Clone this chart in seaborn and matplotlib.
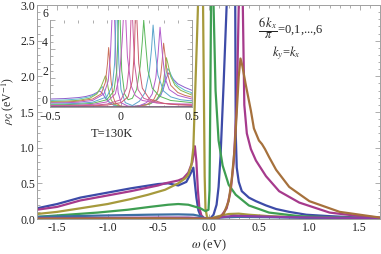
import matplotlib
matplotlib.use("Agg")
import matplotlib.pyplot as plt
import seaborn as sns
from matplotlib.ticker import MultipleLocator, FixedLocator, FixedFormatter

# ---- main panel: seven spectral functions, kx = 0..6 (pi/6), ky = kx
blue_x = [-1.7, -1.5, -1.27, -1.0, -0.77, -0.5, -0.4, -0.3, -0.22, -0.19, -0.15, -0.135, -0.12, -0.1, -0.08, -0.05,
          -0.01, 0.02, 0.05, 0.08, 0.1, 0.12, 0.15, 0.18, 0.22, 0.265, 0.27, 0.28, 0.3, 0.33, 0.4, 0.47, 0.57, 0.67,
          0.8, 0.97, 1.2, 1.5, 1.7]
blue_y = [0.15, 0.21, 0.3, 0.37, 0.43, 0.49, 0.5, 0.47, 0.52, 0.6, 0.72, 0.5, 0.3, 0.12, 0.05, 0.01,
          0.0, 0.01, 0.06, 0.2, 0.45, 0.9, 1.9, 3.0, 8.0, 3.0, 1.2, 0.72, 0.52, 0.39, 0.3, 0.25, 0.19, 0.14,
          0.1, 0.06, 0.04, 0.02, 0.015]

magenta_x = [-1.7, -1.5, -1.27, -1.0, -0.77, -0.5, -0.43, -0.3, -0.25, -0.2, -0.16, -0.135, -0.12, -0.105, -0.09,
             -0.07, -0.04, 0.02, 0.08, 0.12, 0.18, 0.22, 0.25, 0.28, 0.3, 0.32, 0.34, 0.355, 0.38, 0.42, 0.47,
             0.57, 0.7, 0.9, 1.2, 1.5, 1.7]
magenta_y = [0.13, 0.17, 0.26, 0.33, 0.39, 0.47, 0.5, 0.54, 0.57, 0.65, 0.8, 1.02, 0.8, 0.4, 0.15,
             0.05, 0.01, 0.0, 0.01, 0.03, 0.15, 0.4, 0.8, 1.6, 3.0, 8.0, 3.0, 1.6, 1.2, 0.98, 0.82,
             0.6, 0.39, 0.23, 0.09, 0.04, 0.02]

gold_x = [-1.7, -1.5, -1.27, -1.0, -0.77, -0.6, -0.43, -0.3, -0.23, -0.2, -0.17, -0.15, -0.135, -0.115, -0.104,
          -0.08, -0.054, -0.045, -0.038, -0.03, -0.015, 0.01, 0.05, 0.1, 0.2, 0.3, 0.4, 0.6, 1.0, 1.7]
gold_y = [0.07, 0.1, 0.15, 0.21, 0.28, 0.34, 0.41, 0.5, 0.57, 0.62, 0.75, 1.0, 1.66, 2.5, 3.0,
          8.0, 3.0, 1.66, 0.6, 0.15, 0.03, 0.0, 0.02, 0.04, 0.07, 0.075, 0.06, 0.04, 0.02, 0.01]

green_x = [-1.7, -1.5, -1.1, -0.8, -0.58, -0.4, -0.3, -0.2, -0.08, -0.03, 0.0, 0.01, 0.018, 0.025, 0.035, 0.05,
           0.07, 0.1, 0.14, 0.2, 0.27, 0.4, 0.6, 0.9, 1.3, 1.7]
green_y = [0.03, 0.05, 0.09, 0.13, 0.17, 0.2, 0.21, 0.2, 0.15, 0.11, 0.13, 0.4, 1.66, 3.0, 8.0, 3.0,
           1.8, 1.1, 0.75, 0.48, 0.34, 0.19, 0.09, 0.04, 0.02, 0.01]

blue2_x = [-1.7, -1.0, -0.6, -0.3, -0.15, -0.08, -0.04, 0.0, 0.05, 0.1, 0.3, 0.6, 1.0, 1.7]
blue2_y = [0.03, 0.05, 0.06, 0.065, 0.06, 0.04, 0.01, 0.0, 0.01, 0.02, 0.03, 0.025, 0.015, 0.01]

purple2_x = [-1.7, -0.5, -0.2, -0.05, 0.0, 0.1, 0.25, 0.4, 0.8, 1.7]
purple2_y = [0.01, 0.02, 0.02, 0.01, 0.0, 0.02, 0.045, 0.04, 0.025, 0.01]

brown_x = [-1.7, -0.5, 0.0, 0.1, 0.15, 0.2, 0.23, 0.26, 0.28, 0.3, 0.317, 0.335, 0.367, 0.42, 0.45, 0.5, 0.53,
           0.56, 0.6, 0.67, 0.8, 1.0, 1.3, 1.7]
brown_y = [0.005, 0.01, 0.005, 0.02, 0.07, 0.25, 0.55, 1.0, 1.5, 2.0, 2.25, 2.15, 1.9, 1.52, 1.27, 1.1, 1.05,
           0.98, 0.87, 0.69, 0.45, 0.25, 0.1, 0.02]

main_curves = [(blue_x, blue_y, "#3d4ba8"), (magenta_x, magenta_y, "#a63a8c"), (gold_x, gold_y, "#a69a3c"),
               (green_x, green_y, "#3e9e52"), (blue2_x, blue2_y, "#3c6fa3"), (purple2_x, purple2_y, "#8e3ea6"),
               (brown_x, brown_y, "#a6713c")]

# ---- inset (T=130K): points (omega, rho) per curve
in_a = [(-0.5, 0.55), (-0.4, 0.58), (-0.3, 0.65), (-0.25, 0.72), (-0.2, 0.85), (-0.17, 1.0), (-0.15, 1.1),
        (-0.13, 0.95), (-0.11, 0.6), (-0.08, 0.3), (-0.05, 0.12), (0.0, 0.04), (0.1, 0.05), (0.2, 0.2),
        (0.25, 0.45), (0.28, 0.8), (0.3, 1.3), (0.32, 2.0), (0.335, 2.35), (0.35, 2.2), (0.37, 1.9),
        (0.4, 1.6), (0.45, 1.35), (0.5, 1.15)]
in_b = [(-0.5, 0.45), (-0.4, 0.48), (-0.3, 0.55), (-0.22, 0.7), (-0.17, 0.95), (-0.14, 1.3), (-0.13, 1.4),
        (-0.12, 1.2), (-0.1, 0.6), (-0.08, 0.3), (-0.05, 0.12), (0.0, 0.03), (0.1, 0.04), (0.2, 0.2),
        (0.25, 0.5), (0.28, 0.9), (0.3, 1.5), (0.32, 2.4), (0.33, 2.65), (0.345, 2.4), (0.37, 1.8),
        (0.4, 1.45), (0.45, 1.15), (0.5, 0.98)]
in_c = [(-0.5, 0.38), (-0.4, 0.4), (-0.3, 0.46), (-0.22, 0.6), (-0.17, 0.9), (-0.14, 1.4), (-0.12, 1.9),
        (-0.11, 2.15), (-0.1, 1.9), (-0.09, 1.3), (-0.07, 0.5), (-0.05, 0.2), (0.0, 0.03), (0.1, 0.03),
        (0.2, 0.2), (0.25, 0.5), (0.28, 1.0), (0.3, 1.8), (0.31, 2.6), (0.32, 3.4), (0.33, 3.0),
        (0.35, 2.1), (0.38, 1.5), (0.42, 1.15), (0.5, 0.82)]
in_d = [(-0.5, 0.32), (-0.4, 0.34), (-0.3, 0.4), (-0.2, 0.55), (-0.14, 0.9), (-0.11, 1.7), (-0.095, 3.0),
        (-0.087, 4.1), (-0.08, 3.2), (-0.07, 1.8), (-0.055, 0.7), (-0.04, 0.3), (0.0, 0.05), (0.1, 0.03),
        (0.18, 0.15), (0.23, 0.5), (0.26, 1.1), (0.28, 2.2), (0.29, 3.2), (0.3, 4.4), (0.31, 3.6),
        (0.325, 2.4), (0.35, 1.5), (0.4, 1.0), (0.45, 0.8), (0.5, 0.68)]
in_e = [(-0.5, 0.27), (-0.4, 0.29), (-0.3, 0.33), (-0.2, 0.45), (-0.12, 0.9), (-0.09, 1.8), (-0.075, 3.5),
        (-0.064, 6.0), (-0.055, 9.0), (-0.045, 6.0), (-0.035, 3.0), (-0.02, 1.0), (0.0, 0.3), (0.05, 0.05),
        (0.12, 0.05), (0.18, 0.3), (0.22, 0.9), (0.245, 2.0), (0.26, 3.5), (0.275, 5.5), (0.29, 3.8),
        (0.31, 2.0), (0.34, 1.2), (0.4, 0.8), (0.5, 0.55)]
in_f = [(-0.5, 0.2), (-0.4, 0.22), (-0.3, 0.25), (-0.2, 0.33), (-0.1, 0.7), (-0.06, 1.5), (-0.045, 3.0),
        (-0.036, 6.0), (-0.03, 9.0), (-0.024, 6.0), (-0.015, 3.0), (0.0, 1.2), (0.03, 0.3), (0.08, 0.1),
        (0.13, 0.4), (0.17, 1.0), (0.2, 2.5), (0.215, 4.0), (0.226, 5.65), (0.24, 4.0), (0.26, 2.2),
        (0.3, 1.1), (0.35, 0.7), (0.42, 0.5), (0.5, 0.42)]
in_g = [(-0.5, 0.15), (-0.4, 0.16), (-0.3, 0.19), (-0.2, 0.25), (-0.1, 0.5), (-0.05, 1.1), (-0.03, 2.5),
        (-0.018, 6.0), (-0.012, 9.0), (-0.006, 6.0), (0.005, 2.5), (0.025, 0.9), (0.05, 0.5), (0.08, 0.6),
        (0.11, 1.2), (0.135, 2.8), (0.15, 4.5), (0.16, 6.0), (0.172, 4.5), (0.19, 2.5), (0.22, 1.3),
        (0.27, 0.75), (0.35, 0.45), (0.5, 0.3)]
in_h = [(-0.5, 0.1), (-0.4, 0.11), (-0.3, 0.13), (-0.2, 0.18), (-0.1, 0.35), (-0.04, 0.9), (-0.01, 2.2),
        (0.008, 4.5), (0.016, 6.0), (0.025, 9.0), (0.034, 6.0), (0.045, 3.5), (0.07, 1.5), (0.1, 0.8),
        (0.15, 0.45), (0.25, 0.28), (0.35, 0.22), (0.5, 0.2)]
in_i = [(-0.5, 0.07), (-0.3, 0.09), (-0.2, 0.12), (-0.1, 0.2), (0.0, 0.5), (0.04, 1.3), (0.06, 3.0),
        (0.07, 6.0), (0.075, 9.0), (0.082, 6.0), (0.095, 3.0), (0.12, 1.2), (0.16, 0.6), (0.25, 0.3),
        (0.35, 0.2), (0.5, 0.15)]
in_j = [(-0.5, 0.05), (-0.3, 0.06), (-0.2, 0.08), (-0.1, 0.13), (0.0, 0.3), (0.05, 0.7), (0.08, 1.8),
        (0.095, 4.0), (0.1, 6.0), (0.105, 9.0), (0.112, 6.0), (0.125, 3.0), (0.15, 1.3), (0.2, 0.55),
        (0.3, 0.25), (0.4, 0.15), (0.5, 0.11)]
in_k = [(-0.5, 0.03), (0.0, 0.02), (0.5, 0.03)]
in_l = [(-0.5, 0.01), (0.0, 0.0), (0.5, 0.01)]

inset_curves = [(in_a, "#8c5ccc"), (in_b, "#5cc0cc"), (in_c, "#89b84c"), (in_d, "#cc715c"),
                (in_e, "#b15ccc"), (in_f, "#5ca5cc"), (in_g, "#5cb85c"), (in_h, "#c05cc1"),
                (in_i, "#cc5c9b"), (in_j, "#cc5c6d"), (in_k, "#9c6b3c"), (in_l, "#6a5cad")]

sns.set_theme(style="ticks")
plt.rcParams["font.family"] = ["Liberation Serif", "DejaVu Serif"]
plt.rcParams["mathtext.fontset"] = "stix"

W, H = 381, 254
fig = plt.figure(figsize=(W / 100, H / 100), dpi=100)
frame_col = "#a0a0a0"


def style_frame(a, fs):
    for s in a.spines.values():
        s.set_color(frame_col)
        s.set_linewidth(0.7)
    a.tick_params(which="both", direction="in", top=True, right=True, color=frame_col,
                  labelsize=fs, labelcolor="#222222", width=0.6, pad=2)
    a.tick_params(which="major", length=3.5)
    a.tick_params(which="minor", length=1.8)


ax = fig.add_axes([37 / W, 35 / H, 343 / W, 214 / H])
for xs, ys, c in main_curves:
    sns.lineplot(x=xs, y=ys, ax=ax, color=c, lw=1.6, estimator=None, sort=False)
ax.set_xlim(-1.7, 1.7)
ax.set_ylim(0, 3.0)
ax.xaxis.set_major_locator(MultipleLocator(0.5))
ax.xaxis.set_minor_locator(MultipleLocator(0.1))
ax.yaxis.set_major_locator(MultipleLocator(0.5))
ax.yaxis.set_minor_locator(MultipleLocator(0.1))
ax.xaxis.set_major_formatter(matplotlib.ticker.FormatStrFormatter("%.1f"))
ax.yaxis.set_major_formatter(matplotlib.ticker.FormatStrFormatter("%.1f"))
style_frame(ax, 8.5)
ax.tick_params(axis="y", which="both", pad=1.5)
ax.set_xlabel(r"$\omega$ (eV)", fontsize=9, labelpad=3)
ax.set_ylabel(r"$\rho_{\mathcal{G}}$ (eV$^{-1}$)", fontsize=8.5)
ax.yaxis.set_label_coords(-0.062, 0.55)

ins = fig.add_axes([50 / W, (H - 107) / H, 142 / W, 87 / H])
ins.set_facecolor("white")
for pts, c in inset_curves:
    sns.lineplot(x=[p[0] for p in pts], y=[p[1] for p in pts], ax=ins, color=c, lw=0.7,
                 estimator=None, sort=False)
ins.set_xlim(-0.5, 0.5)
ins.set_ylim(0, 6)
ins.xaxis.set_major_locator(FixedLocator([-0.5, 0.0, 0.5]))
ins.xaxis.set_major_formatter(FixedFormatter(["\u22120.5", "0", "0.5"]))
ins.xaxis.set_minor_locator(MultipleLocator(0.1))
ins.yaxis.set_major_locator(FixedLocator([0, 2, 4, 6]))
ins.yaxis.set_minor_locator(MultipleLocator(0.5))
style_frame(ins, 8.5)
ins.tick_params(axis="y", which="both", pad=1.5)
ins.tick_params(axis="x", which="both", pad=3)
ins.spines["top"].set_visible(False)
ins.tick_params(top=False)
for lab in ins.get_yticklabels():
    lab.set_verticalalignment("bottom")

fig.text(112 / W, 1 - 134 / H, "T=130K", fontsize=9, ha="center", va="center")
fig.text(258 / W, 1 - 28 / H, r"$\dfrac{6\,k_x}{\pi}$=0,1,...,6", fontsize=9, ha="left", va="center")
fig.text(272 / W, 1 - 53 / H, r"$k_y$=$k_x$", fontsize=9, ha="left", va="center")

fig.savefig("out.png", dpi=100)
